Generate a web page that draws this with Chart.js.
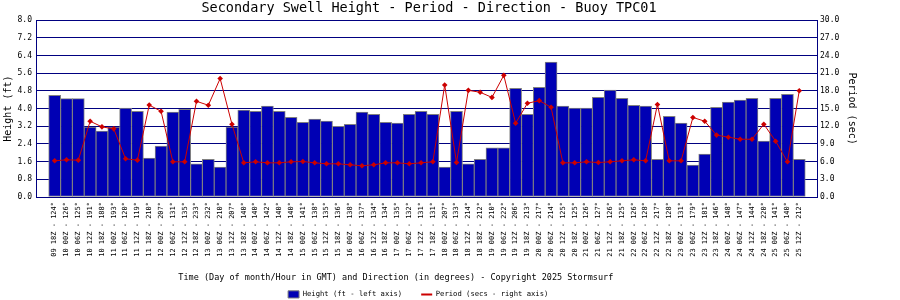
<!DOCTYPE html>
<html>
<head>
  <meta charset="UTF-8">
  <title>Secondary Swell - Buoy TPC01</title>
  <script src="https://cdn.jsdelivr.net/npm/chart.js@4.4.1/dist/chart.umd.min.js"></script>
  <style>
    html, body { margin: 0; padding: 0; background: #fff; }
    .wrap { width: 900px; height: 300px; }
  </style>
</head>
<body>
  <div class="wrap"><canvas id="swellChart"></canvas></div>
  <script>
    // Day/hour (GMT) of each reading
    const times = [
      '09 18Z',
      '10 00Z', '10 06Z', '10 12Z', '10 18Z',
      '11 00Z', '11 06Z', '11 12Z', '11 18Z',
      '12 00Z', '12 06Z', '12 12Z', '12 18Z',
      '13 00Z', '13 06Z', '13 12Z', '13 18Z',
      '14 00Z', '14 06Z', '14 12Z', '14 18Z',
      '15 00Z', '15 06Z', '15 12Z', '15 18Z',
      '16 00Z', '16 06Z', '16 12Z', '16 18Z',
      '17 00Z', '17 06Z', '17 12Z', '17 18Z',
      '18 00Z', '18 06Z', '18 12Z', '18 18Z',
      '19 00Z', '19 06Z', '19 12Z', '19 18Z',
      '20 00Z', '20 06Z', '20 12Z', '20 18Z',
      '21 00Z', '21 06Z', '21 12Z', '21 18Z',
      '22 00Z', '22 06Z', '22 12Z', '22 18Z',
      '23 00Z', '23 06Z', '23 12Z', '23 18Z',
      '24 00Z', '24 06Z', '24 12Z', '24 18Z',
      '25 00Z', '25 06Z', '25 12Z'
    ];
    // Direction in degrees
    const directions = [
      124,
      126, 125, 191, 188,
      193, 120, 119, 210,
      207, 131, 135, 233,
      232, 210, 207, 140,
      140, 142, 140, 140,
      141, 138, 135, 136,
      138, 137, 134, 134,
      135, 132, 131, 131,
      207, 133, 214, 212,
      210, 222, 206, 213,
      217, 214, 125, 125,
      126, 127, 126, 125,
      126, 128, 217, 128,
      131, 179, 181, 146,
      148, 147, 144, 220,
      141, 140, 212
    ];
    // Height in feet (left axis)
    const heights = [
      4.60,
      4.45, 4.45, 3.16, 2.98,
      3.16, 4.02, 3.88, 1.76,
      2.30, 3.84, 3.97, 1.50,
      1.71, 1.35, 3.16, 3.93,
      3.88, 4.11, 3.88, 3.61,
      3.38, 3.53, 3.43, 3.20,
      3.29, 3.84, 3.74, 3.38,
      3.34, 3.74, 3.88, 3.74,
      1.35, 3.88, 1.50, 1.71,
      2.22, 2.22, 4.92, 3.74,
      4.96, 6.11, 4.11, 4.02,
      4.02, 4.51, 4.84, 4.47,
      4.15, 4.11, 1.71, 3.65,
      3.34, 1.44, 1.94, 4.06,
      4.29, 4.38, 4.47, 2.53,
      4.47, 4.65, 1.71
    ];
    // Period in seconds (right axis)
    const periods = [
      6.14,
      6.31, 6.25, 12.86, 11.90,
      11.56, 6.48, 6.25, 15.60,
      14.55, 5.97, 5.97, 16.24,
      15.57, 20.10, 12.35, 5.80,
      5.97, 5.80, 5.80, 5.97,
      6.02, 5.80, 5.63, 5.63,
      5.46, 5.30, 5.46, 5.80,
      5.80, 5.63, 5.80, 5.97,
      19.00, 5.85, 18.10, 17.77,
      16.90, 20.64, 12.52, 15.90,
      16.35, 15.23, 5.80, 5.80,
      5.97, 5.85, 5.97, 6.14,
      6.31, 6.14, 15.70, 6.14,
      6.14, 13.50, 12.86, 10.50,
      10.15, 9.80, 9.80, 12.35,
      9.47, 5.97, 18.04
    ];

    const MONO = "'DejaVu Sans Mono', 'Liberation Mono', monospace";
    const NAVY = '#000080';
    const BAR_BLUE = '#0000b4';
    const LINE_RED = '#cc0000';
    const PLOT_BOTTOM = 197;
    const PAD_BOTTOM = -8;

    const ctx = document.getElementById('swellChart').getContext('2d');
    new Chart(ctx, {
      type: 'bar',
      data: {
        labels: heights.map((_, i) => i),
        datasets: [{
          label: 'Height (ft - left axis)',
          data: heights,
          yAxisID: 'yHeight',
          backgroundColor: BAR_BLUE,
          borderColor: '#808080',
          borderWidth: 1,
          borderSkipped: false,
          barThickness: 12,
          order: 2,
        }, {
          type: 'line',
          label: 'Period (secs - right axis)',
          data: periods,
          yAxisID: 'yPeriod',
          borderColor: LINE_RED,
          backgroundColor: LINE_RED,
          borderWidth: 1,
          pointStyle: 'rectRot',
          pointRadius: 2.8,
          pointBorderWidth: 0,
          tension: 0,
          order: 1,
        }]
      },
      options: {
        responsive: true,
        maintainAspectRatio: false,
        animation: false,
        layout: { padding: { left: 0, right: 42, top: 0, bottom: PAD_BOTTOM } },
        plugins: {
          title: {
            display: true,
            text: 'Secondary Swell Height - Period - Direction - Buoy TPC01',
            color: '#000',
            font: { family: MONO, size: 13.5, weight: 'normal' },
            padding: { top: 0, bottom: 4 },
          },
          legend: {
            position: 'bottom',
            labels: {
              color: '#000',
              font: { family: MONO, size: 7.2 },
              usePointStyle: true,
              pointStyleWidth: 11,
              boxHeight: 9,
              padding: 19,
              generateLabels: chart => {
                const items = Chart.defaults.plugins.legend.labels.generateLabels(chart);
                items.sort((a, b) => a.datasetIndex - b.datasetIndex);
                items.forEach(it => {
                  if (it.datasetIndex === 0) {
                    it.pointStyle = 'rect';
                  } else {
                    it.pointStyle = 'line';
                    it.lineWidth = 2;
                    it.strokeStyle = LINE_RED;
                    // trailing room keeps the legend a little left of centre, as in the original
                    it.text += ' '.repeat(5);
                  }
                });
                return items;
              }
            }
          },
          tooltip: { enabled: false }
        },
        scales: {
          x: {
            type: 'linear',
            min: -1.08,
            max: 64,
            grid: { display: false, drawTicks: false },
            border: { display: false },
            ticks: {
              stepSize: 1,
              autoSkip: false,
              minRotation: 90,
              maxRotation: 90,
              padding: 5,
              color: '#000',
              font: { family: MONO, size: 7 },
              callback: v => (Number.isInteger(v) && v >= 0 && v < times.length)
                ? `${times[v]} - ${directions[v]}°` : ''
            },
            title: {
              display: true,
              text: 'Time (Day of month/Hour in GMT) and Direction (in degrees) - Copyright 2025 Stormsurf' + ' '.repeat(12),
              color: '#000',
              font: { family: MONO, size: 8.5 },
              padding: { top: 0, bottom: -11 },
            },
            afterFit: s => {
              const legendH = s.chart.legend ? s.chart.legend.height : 0;
              s.height = s.chart.height - PAD_BOTTOM - PLOT_BOTTOM - legendH;
            }
          },
          yHeight: {
            position: 'left',
            min: 0,
            max: 8,
            grid: { color: NAVY, lineWidth: 1, drawTicks: false },
            border: { color: NAVY, width: 1 },
            ticks: {
              stepSize: 0.8,
              padding: 4,
              color: '#000',
              font: { family: MONO, size: 8 },
              callback: v => v.toFixed(1)
            },
            title: {
              display: true,
              text: 'Height (ft)',
              color: '#000',
              font: { family: MONO, size: 10 },
              padding: { top: 2, bottom: 0 },
            },
            afterFit: s => { s.width = 36; }
          },
          yPeriod: {
            position: 'right',
            min: 0,
            max: 30,
            grid: { display: false, drawTicks: false },
            border: { color: NAVY, width: 1 },
            ticks: {
              stepSize: 3,
              padding: 3,
              color: '#000',
              font: { family: MONO, size: 8 },
              callback: v => v.toFixed(1)
            },
            title: {
              display: true,
              text: 'Period (sec)',
              color: '#000',
              font: { family: MONO, size: 10 },
              padding: { top: 0, bottom: 0 },
            },
            afterFit: s => { s.width = 41; }
          }
        }
      }
    });
  </script>
</body>
</html>
